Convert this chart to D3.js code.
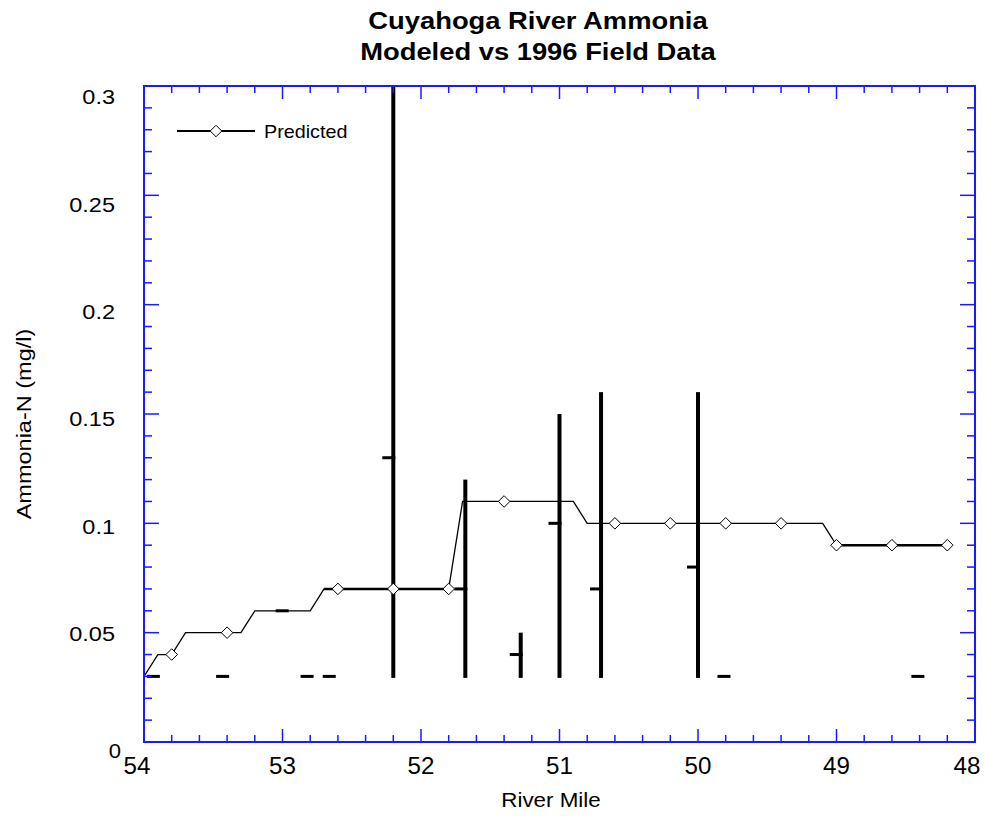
<!DOCTYPE html>
<html>
<head>
<meta charset="utf-8">
<script src="https://cdn.jsdelivr.net/npm/d3@7"></script>
<style>
  html, body { margin: 0; padding: 0; background: #fff; }
  svg { display: block; font-family: Arial, "Liberation Sans", sans-serif; }
</style>
</head>
<body>
<svg id="chart" width="985" height="816"></svg>
<script>
// ---- Data ----
const titleLines = ["Cuyahoga River Ammonia", "Modeled vs 1996 Field Data"];
const xLabel = "River Mile";
const yLabel = "Ammonia-N (mg/l)";
const legendLabel = "Predicted";

// Predicted (model) profile
const predMile  = [54.0, 53.9, 53.8, 53.7, 53.4, 53.3, 53.2, 52.8, 52.7, 52.6, 52.2, 51.8, 51.7, 51.4, 50.9, 50.8, 50.6, 50.2, 49.8, 49.4, 49.1, 49.0, 48.6, 48.2];
const predValue = [0.03, 0.04, 0.04, 0.05, 0.05, 0.05, 0.06, 0.06, 0.07, 0.07, 0.07, 0.07, 0.11, 0.11, 0.11, 0.10, 0.10, 0.10, 0.10, 0.10, 0.10, 0.09, 0.09, 0.09];
const predMarked= [0,    0,    1,    0,    1,    0,    0,    0,    0,    1,    1,    1,    0,    1,    0,    0,    1,    1,    1,    1,    0,    1,    1,    1];
// Segments of the profile drawn heavier (overlapping traces)
const boldSegMile  = [[52.7, 51.8], [49.0, 48.2]];
const boldSegValue = [[0.07, 0.07], [0.09, 0.09]];

// 1996 field data: mean with min-max range
const obsMile = [53.9, 53.4, 52.97, 52.79, 52.63, 52.2, 51.68, 51.28, 51.0, 50.7, 50.0, 49.78, 48.38];
const obsMean = [0.03, 0.03, 0.06, 0.03, 0.03, 0.13, 0.07, 0.04, 0.10, 0.07, 0.08, 0.03, 0.03];
const obsMin  = [0.03, 0.03, 0.06, 0.03, 0.03, 0.03, 0.03, 0.03, 0.03, 0.03, 0.03, 0.03, 0.03];
const obsMax  = [0.03, 0.03, 0.06, 0.03, 0.03, 0.31, 0.12, 0.05, 0.15, 0.16, 0.16, 0.03, 0.03];

// Tick labels
const xTickValues = [54, 53, 52, 51, 50, 49, 48];
const yTickValues = [0, 0.05, 0.1, 0.15, 0.2, 0.25, 0.3];
const yTickLabels = ["0", "0.05", "0.1", "0.15", "0.2", "0.25", "0.3"];

// ---- Layout ----
const L = 144, R = 975, T = 86, B = 742;
const axisColor = "#1a1aff";

const svg = d3.select("#chart");
const x = d3.scaleLinear().domain([54, 48]).range([L, R]);
const y = d3.scaleLinear().domain([0, 0.3]).range([B, T]);
// label placement scale (labels sit slightly offset from their ticks in the original)
const yLab = d3.scaleLinear().domain([0, 0.3]).range([741, 96.6]);

// helper: horizontally stretched text
function stext(g, px, py, str, size, opts = {}) {
  const sx = opts.sx || 1.12;
  const t = g.append("text")
    .attr("transform", `translate(${px},${py})${opts.rot ? " rotate(" + opts.rot + ")" : ""} scale(${sx},1)`)
    .attr("font-size", size)
    .attr("text-anchor", opts.anchor || "start")
    .text(str);
  if (opts.bold) t.attr("font-weight", "bold");
  return t;
}

svg.append("defs").append("clipPath").attr("id", "plotclip")
  .append("rect").attr("x", L).attr("y", T).attr("width", R - L).attr("height", B - T);

// Title
const tg = svg.append("g");
titleLines.forEach((s, i) => stext(tg, 538, 29 + i * 31, s, 24, { anchor: "middle", bold: true, sx: 1.14 }));

// Plot content (clipped)
const plot = svg.append("g").attr("clip-path", "url(#plotclip)");

// Predicted line
const predData = predMile.map((m, i) => ({ m, v: predValue[i], mk: predMarked[i] }));
const line = d3.line().x(d => x(d.m)).y(d => y(d.v));
plot.append("path").datum(predData)
  .attr("d", line).attr("fill", "none").attr("stroke", "#000").attr("stroke-width", 1.3);

boldSegMile.forEach((seg, i) => {
  const pts = seg.map((m, j) => ({ m, v: boldSegValue[i][j] }));
  plot.append("path").datum(pts).attr("d", line)
    .attr("fill", "none").attr("stroke", "#000").attr("stroke-width", 2.6);
});

// Observed data: range bars + mean ticks
const obs = obsMile.map((m, i) => ({ m, mean: obsMean[i], lo: obsMin[i], hi: obsMax[i] }));
plot.append("g").selectAll("rect").data(obs.filter(d => d.hi > d.lo)).join("rect")
  .attr("x", d => x(d.m) - 2).attr("width", 4)
  .attr("y", d => y(d.hi)).attr("height", d => y(d.lo) - y(d.hi) + 1.5)
  .attr("fill", "#000");
plot.append("g").selectAll("rect").data(obs).join("rect")
  .attr("x", d => x(d.m) - 11).attr("width", 13)
  .attr("y", d => y(d.mean) - 1.5).attr("height", 3)
  .attr("fill", "#000");

// Markers
const diamond = d3.symbol().type(d3.symbolDiamond2).size(85);
plot.append("g").selectAll("path").data(predData.filter(d => d.mk)).join("path")
  .attr("d", diamond)
  .attr("transform", d => `translate(${x(d.m)},${y(d.v)})`)
  .attr("fill", "#fff").attr("stroke", "#000").attr("stroke-width", 1);

// Axes frame + inward ticks on all sides
const frame = svg.append("g");
const xMinor = d3.range(0, 31).map(i => 54 - i * 0.2);
const yMinor = d3.range(0, 31).map(i => i * 0.01);
const isMajorX = v => Math.abs(v - Math.round(v)) < 1e-6;
const isMajorY = v => Math.abs(v / 0.05 - Math.round(v / 0.05)) < 1e-6;

xMinor.forEach(v => {
  const len = isMajorX(v) ? 13 : 7;
  const px = x(v);
  frame.append("line").attr("x1", px).attr("x2", px).attr("y1", B).attr("y2", B - len)
    .attr("stroke", axisColor).attr("stroke-width", 1.5);
  frame.append("line").attr("x1", px).attr("x2", px).attr("y1", T).attr("y2", T + len)
    .attr("stroke", axisColor).attr("stroke-width", 1.5);
});
yMinor.forEach(v => {
  const len = isMajorY(v) ? 15 : 8;
  const py = y(v);
  frame.append("line").attr("x1", L).attr("x2", L + len).attr("y1", py).attr("y2", py)
    .attr("stroke", axisColor).attr("stroke-width", 1.5);
  frame.append("line").attr("x1", R).attr("x2", R - len).attr("y1", py).attr("y2", py)
    .attr("stroke", axisColor).attr("stroke-width", 1.5);
});
frame.append("rect").attr("x", L).attr("y", T).attr("width", R - L).attr("height", B - T)
  .attr("fill", "none").attr("stroke", axisColor).attr("stroke-width", 2);

// Tick labels
const xg = svg.append("g");
xTickValues.forEach(v => {
  const shift = v === 54 ? -7 : (v === 48 ? -8 : 0);
  stext(xg, x(v) + shift, 774, String(v), 23, { anchor: "middle", sx: 1.05 });
});
const yg = svg.append("g");
yTickValues.forEach((v, i) => {
  if (v === 0) stext(yg, 121, 758, yTickLabels[i], 21, { anchor: "end", sx: 1.05 });
  else stext(yg, 115, yLab(v) + 7.5, yTickLabels[i], 21, { anchor: "end", sx: 1.12 });
});

// Axis titles
stext(svg, 551, 807, xLabel, 20, { anchor: "middle", sx: 1.12 });
stext(svg, 31, 424, yLabel, 21, { anchor: "middle", rot: -90, sx: 1.12 });

// Legend
const lg = svg.append("g");
lg.append("line").attr("x1", 177).attr("x2", 255).attr("y1", 131).attr("y2", 131)
  .attr("stroke", "#000").attr("stroke-width", 1.8);
lg.append("path").attr("d", diamond).attr("transform", "translate(216,131)")
  .attr("fill", "#fff").attr("stroke", "#000");
stext(lg, 264, 138, legendLabel, 19, { sx: 1.04 });
</script>
</body>
</html>
